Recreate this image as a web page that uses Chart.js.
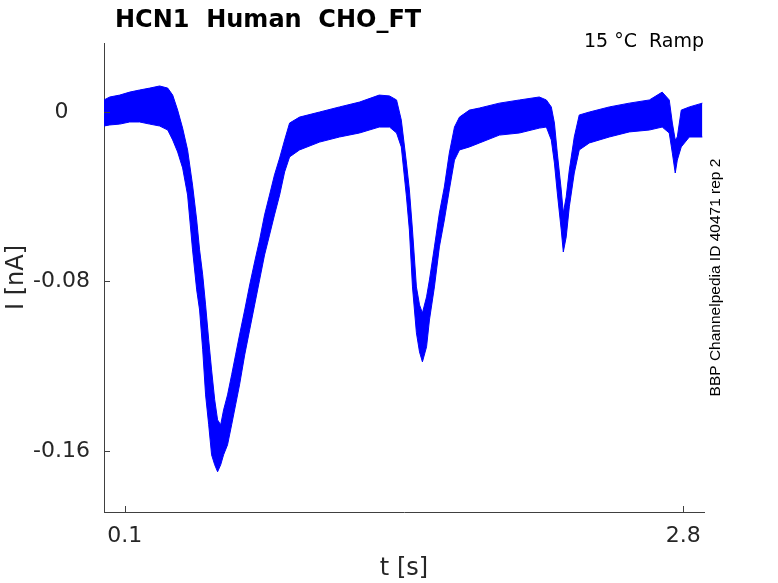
<!DOCTYPE html>
<html>
<head>
<meta charset="utf-8">
<script src="https://cdn.jsdelivr.net/npm/chart.js@4.4.0/dist/chart.umd.min.js"></script>
<style>
  html, body { margin: 0; padding: 0; background: #fff; }
  #wrap { width: 778px; height: 583px; }
</style>
</head>
<body>
<div id="wrap"><canvas id="myChart" width="778" height="583"></canvas></div>
<script>
// time axis (s) and the upper / lower edge of the band of sweeps (nA)
const timeS = [0, 0.028, 0.076, 0.124, 0.172, 0.221, 0.269, 0.308, 0.332, 0.356,
  0.380, 0.404, 0.428, 0.448, 0.462, 0.477, 0.491, 0.506, 0.520, 0.535,
  0.549, 0.564, 0.578, 0.597, 0.617, 0.636, 0.655, 0.680, 0.704, 0.728,
  0.752, 0.776, 0.800, 0.824, 0.849, 0.873, 0.897, 0.945, 1.042, 1.138,
  1.235, 1.330, 1.380, 1.414, 1.437, 1.462, 1.476, 1.491, 1.510, 1.525,
  1.539, 1.559, 1.573, 1.597, 1.621, 1.645, 1.669, 1.694, 1.718, 1.766,
  1.815, 1.911, 2.008, 2.104, 2.138, 2.162, 2.177, 2.191, 2.210, 2.220,
  2.234, 2.249, 2.273, 2.297, 2.346, 2.442, 2.539, 2.636, 2.698, 2.732,
  2.747, 2.761, 2.771, 2.790, 2.829, 2.892];

const upperNA = [0.0057, 0.0071, 0.0080, 0.0094, 0.0104, 0.0113, 0.0123, 0.0113, 0.0080, 0.0009,
  -0.0076, -0.0179, -0.0345, -0.0510, -0.0651, -0.0769, -0.0911, -0.1076, -0.1218, -0.1359,
  -0.1454, -0.1477, -0.1407, -0.1336, -0.1241, -0.1147, -0.1053, -0.0935, -0.0817, -0.0708,
  -0.0604, -0.0486, -0.0392, -0.0297, -0.0217, -0.0132, -0.0052, -0.0024, 0.0000, 0.0024,
  0.0047, 0.0080, 0.0076, 0.0057, -0.0038, -0.0241, -0.0368, -0.0557, -0.0826, -0.0911,
  -0.0949, -0.0873, -0.0793, -0.0637, -0.0477, -0.0354, -0.0194, -0.0071, -0.0024, 0.0009,
  0.0019, 0.0042, 0.0057, 0.0071, 0.0057, 0.0024, -0.0052, -0.0194, -0.0368, -0.0477,
  -0.0401, -0.0274, -0.0118, -0.0014, 0.0000, 0.0024, 0.0042, 0.0057, 0.0094, 0.0057,
  -0.0052, -0.0132, -0.0118, 0.0009, 0.0024, 0.0042];

const lowerNA = [-0.0066, -0.0061, -0.0057, -0.0047, -0.0047, -0.0057, -0.0066, -0.0085, -0.0132, -0.0189,
  -0.0264, -0.0392, -0.0651, -0.0840, -0.0935, -0.1123, -0.1336, -0.1477, -0.1619, -0.1666,
  -0.1699, -0.1666, -0.1619, -0.1572, -0.1477, -0.1383, -0.1289, -0.1147, -0.1029, -0.0911,
  -0.0793, -0.0675, -0.0581, -0.0486, -0.0392, -0.0283, -0.0212, -0.0179, -0.0142, -0.0118,
  -0.0099, -0.0071, -0.0071, -0.0099, -0.0165, -0.0401, -0.0557, -0.0826, -0.1043, -0.1133,
  -0.1180, -0.1109, -0.0982, -0.0826, -0.0637, -0.0510, -0.0368, -0.0227, -0.0179, -0.0165,
  -0.0146, -0.0109, -0.0099, -0.0076, -0.0071, -0.0132, -0.0241, -0.0382, -0.0557, -0.0661,
  -0.0590, -0.0448, -0.0288, -0.0179, -0.0146, -0.0118, -0.0094, -0.0085, -0.0071, -0.0099,
  -0.0194, -0.0288, -0.0227, -0.0165, -0.0118, -0.0118];

const xTickVals = [0.1, 2.8];
const yTickVals = [0, -0.08, -0.16];

const titleText = "HCN1  Human  CHO_FT";
const tempText = "15 °C  Ramp";
const sourceText = "BBP Channelpedia ID 40471 rep 2";

const traceColor = "#0000ff";
const axisColor = "#404040";
const textColor = "#262626";

const toPoints = (vals) => timeS.map((t, i) => ({ x: t, y: vals[i] }));

// inward ticks + the extra text MATLAB puts around the axes
const extrasPlugin = {
    id: "extras",
    afterDraw(chart) {
        const { ctx, chartArea, scales } = chart;
        ctx.save();
        ctx.strokeStyle = axisColor;
        ctx.lineWidth = 1;
        scales.x.ticks.forEach(t => {
            const px = Math.round(scales.x.getPixelForValue(t.value)) + 0.5;
            ctx.beginPath();
            ctx.moveTo(px, chartArea.bottom);
            ctx.lineTo(px, chartArea.bottom - 6);
            ctx.stroke();
        });
        scales.y.ticks.forEach(t => {
            const py = Math.round(scales.y.getPixelForValue(t.value)) + 0.5;
            ctx.beginPath();
            ctx.moveTo(chartArea.left, py);
            ctx.lineTo(chartArea.left + 6, py);
            ctx.stroke();
        });

        ctx.fillStyle = "#000";
        ctx.textBaseline = "alphabetic";
        ctx.font = "bold 24px 'DejaVu Sans'";
        ctx.textAlign = "left";
        ctx.fillText(titleText, 115, 27);

        ctx.font = "19px 'DejaVu Sans'";
        ctx.textAlign = "right";
        ctx.fillText(tempText, chartArea.right, 47);

        ctx.font = "15.5px 'Liberation Sans'";
        ctx.textAlign = "center";
        ctx.textBaseline = "middle";
        ctx.translate(716, (chartArea.top + chartArea.bottom) / 2);
        ctx.rotate(-Math.PI / 2);
        ctx.fillText(sourceText, 0, 0);
        ctx.restore();
    }
};

const ctx = document.getElementById("myChart");

new Chart(ctx, {
    type: "line",
    data: {
        datasets: [
            {
                label: "upper",
                data: toPoints(upperNA),
                borderColor: traceColor,
                borderWidth: 1,
                pointRadius: 0,
                fill: false
            },
            {
                label: "lower",
                data: toPoints(lowerNA),
                borderColor: traceColor,
                borderWidth: 1,
                pointRadius: 0,
                backgroundColor: traceColor,
                fill: "-1"
            }
        ]
    },
    options: {
        responsive: false,
        animation: false,
        layout: { padding: { left: 0, top: 43, right: 74, bottom: 0 } },
        plugins: {
            legend: { display: false },
            tooltip: { enabled: false }
        },
        scales: {
            x: {
                type: "linear",
                min: 0,
                max: 2.9,
                grid: { display: false },
                border: { display: true, color: axisColor, width: 1 },
                afterBuildTicks: (scale) => { scale.ticks = xTickVals.map(v => ({ value: v })); },
                afterFit: (scale) => { scale.height = 71; },
                ticks: {
                    autoSkip: false,
                    maxRotation: 0,
                    padding: 3,
                    color: textColor,
                    font: { family: "DejaVu Sans", size: 22 },
                    callback: (v) => String(v)
                },
                title: {
                    display: true,
                    text: "t [s]",
                    color: textColor,
                    padding: { top: 0, bottom: 0 },
                    font: { family: "DejaVu Sans", size: 24 }
                }
            },
            y: {
                type: "linear",
                min: -0.1889,
                max: 0.0326,
                grid: { display: false },
                border: { display: true, color: axisColor, width: 1 },
                afterBuildTicks: (scale) => { scale.ticks = yTickVals.map(v => ({ value: v })); },
                afterFit: (scale) => { scale.width = 104; },
                ticks: {
                    autoSkip: false,
                    crossAlign: "center",
                    padding: 6,
                    color: textColor,
                    font: { family: "DejaVu Sans", size: 22 },
                    callback: (v) => String(v)
                },
                title: {
                    display: true,
                    text: "I [nA]",
                    color: textColor,
                    padding: { top: 2, bottom: 0 },
                    font: { family: "DejaVu Sans", size: 24 }
                }
            }
        }
    },
    plugins: [extrasPlugin]
});
</script>
</body>
</html>
